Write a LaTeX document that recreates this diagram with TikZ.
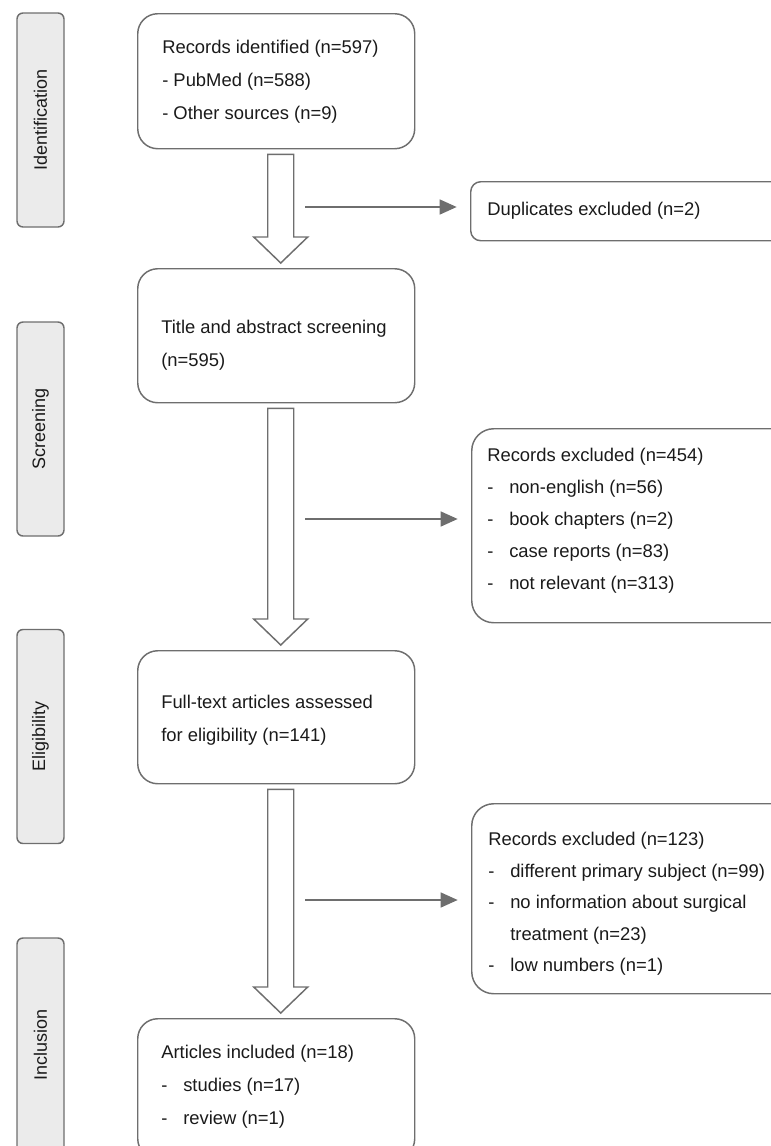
\documentclass[tikz,border=0pt]{standalone}
\usepackage{fontspec}
\setmainfont{Liberation Sans}
\usetikzlibrary{arrows.meta,calc}
\definecolor{lg}{HTML}{6E6E6E}
\definecolor{lf}{HTML}{EBEBEB}
\definecolor{tx}{HTML}{1A1A1A}
\newcommand\itm{\makebox[16.5pt][l]{-}}
\newcommand\bigarr[2]{%
  \draw[bigarrow] ($(#1.south)+(-8.5,5)$) -- ($(#1.south)+(17.5,5)$)
    -- ($(#2.north)+(17.5,-31)$) -- ($(#2.north)+(31.5,-31)$)
    -- ($(#2.north)+(4.5,-5)$) -- ($(#2.north)+(-22.5,-31)$)
    -- ($(#2.north)+(-8.5,-31)$) -- cycle;}
\begin{document}
\begin{tikzpicture}[x=0.75pt,y=-0.75pt,
  font=\fontsize{13.8}{24.75}\selectfont,
  mainbox/.style={draw=lg, line width=1.1pt, rounded corners=15pt, anchor=north west,
    minimum width=207.75pt, inner sep=0pt},
  rbox/.style={draw=lg, line width=1.1pt, rounded corners=16.5pt, anchor=north west,
    minimum width=262.5pt, inner sep=0pt},
  sidebox/.style={draw=lg, fill=lf, line width=1.1pt, rounded corners=4.5pt, rotate=90,
    minimum width=160.5pt, minimum height=35.25pt, inner sep=0pt, text=tx,
    font=\fontsize{13.5}{16}\selectfont},
  txt/.style={anchor=west, align=left, inner sep=0pt, text=tx},
  thinarr/.style={draw=lg, line width=1.1pt, -{Triangle[length=12.75pt,width=11.25pt]},
    shorten >=10pt},
  bigarrow/.style={draw=lg, line width=1.1pt, fill=white, line join=miter}]
\useasboundingbox (0,0) rectangle (771,1146);
\clip (0,0) rectangle (771,1146);

% phase labels
\node[sidebox] (lid) at (40.5,120) {Identification};
\node[sidebox] (lsc) at (40.5,429) {Screening};
\node[sidebox] (lel) at (40.5,736.5) {Eligibility};
\node[sidebox] (lin) at (40.5,1045) {Inclusion};

% main boxes
\node[mainbox, minimum height=101.25pt] (b1) at (137,13) {};
\node[mainbox, minimum height=100.5pt] (b2) at (137,268) {};
\node[mainbox, minimum height=99.75pt] (b3) at (137,650) {};
\node[mainbox, minimum height=105pt] (b4) at (137,1018) {};

\node[txt] (t1) at (162,81.5) {Records identified (n=597)\\- PubMed (n=588)\\- Other sources (n=9)};
\node[txt] (t2) at (161,345) {Title and abstract screening\\(n=595)};
\node[txt] (t3) at (161,720) {Full-text articles assessed\\for eligibility (n=141)};
\node[txt] (t4) at (161,1086.5) {Articles included (n=18)\\\itm studies (n=17)\\\itm review (n=1)};

% right boxes
\node[rbox, rounded corners=7.5pt, minimum height=44.25pt] (r1) at (470,181) {};
\node[rbox, minimum height=145.5pt] (r2) at (471,428) {};
\node[rbox, minimum height=142.5pt] (r3) at (471,803) {};

\node[txt] (tr1) at (487,210.5) {Duplicates excluded (n=2)};
\node[txt, font=\fontsize{13.8}{24}\selectfont] (tr2) at (487,521)
  {Records excluded (n=454)\\\itm non-english (n=56)\\\itm book chapters (n=2)\\\itm case reports (n=83)\\\itm not relevant (n=313)};
\node[txt, font=\fontsize{13.8}{23.6}\selectfont] (tr3) at (488,904)
  {Records excluded (n=123)\\\itm different primary subject (n=99)\\\itm no information about surgical\\\hphantom{\itm}treatment (n=23)\\\itm low numbers (n=1)};

% big arrows
\bigarr{b1}{b2}
\bigarr{b2}{b3}
\bigarr{b3}{b4}

% thin arrows
\coordinate (s1) at (305,207);
\coordinate (s2) at (305,519);
\coordinate (s3) at (305,900);
\draw[thinarr] (s1) -- (s1 -| r1.west);
\draw[thinarr] (s2) -- (s2 -| r2.west);
\draw[thinarr] (s3) -- (s3 -| r3.west);
\end{tikzpicture}
\end{document}
